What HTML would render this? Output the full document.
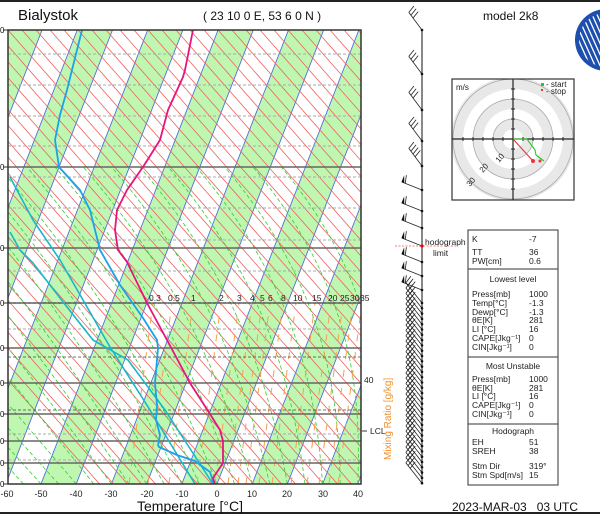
<!DOCTYPE html>
<html><head><meta charset="utf-8"><style>
html,body{margin:0;padding:0;background:#fff;}
svg{display:block;font-family:"Liberation Sans","DejaVu Sans",sans-serif;}
</style></head><body>
<svg id="s" width="600" height="515" viewBox="0 0 600 515" xmlns="http://www.w3.org/2000/svg">
<defs><clipPath id="pc"><rect x="8" y="30" width="353" height="454"/></clipPath>
<clipPath id="pc2"><rect x="8" y="167" width="353" height="317"/></clipPath>
<clipPath id="pc3"><rect x="8" y="303" width="353" height="181"/></clipPath>
<clipPath id="hc"><rect x="452" y="79" width="122" height="121"/></clipPath>
<clipPath id="lcc"><circle cx="606" cy="40" r="27"/></clipPath></defs>
<rect x="0" y="0" width="600" height="515" fill="#fff"/>
<line x1="0" y1="1" x2="600" y2="1" stroke="#222" stroke-width="2"/>
<line x1="0" y1="513" x2="600" y2="513" stroke="#222" stroke-width="2"/>
<g id="bands" clip-path="url(#pc)"></g>
<g id="grid" clip-path="url(#pc)"></g>
<g id="moist" clip-path="url(#pc2)"></g>
<g id="mix" clip-path="url(#pc3)"></g>
<g id="hl"></g>
<g id="curves" clip-path="url(#pc)"></g>
<rect x="8" y="30" width="353" height="454" fill="none" stroke="#333" stroke-width="1.5"/>
<g id="barbs"></g>
<g id="hodo"></g>
<g id="logo"><circle cx="606" cy="40" r="31" fill="#1d4fae"/></g>
<g font-size="8.5" fill="#222">
<text x="149" y="301">0.3</text><text x="168" y="301">0.5</text><text x="191" y="301">1</text><text x="219" y="301">2</text><text x="237" y="301">3</text><text x="250" y="301">4</text><text x="260" y="301">5</text><text x="268" y="301">6</text><text x="281" y="301">8</text><text x="293" y="301">10</text><text x="312" y="301">15</text><text x="328" y="301">20</text><text x="340" y="301">25</text><text x="350" y="301">30</text><text x="360" y="301">35</text>
<text x="364" y="383">40</text>
<text x="370" y="434">LCL</text>
</g>
<line x1="362" y1="431" x2="367" y2="431" stroke="#333"/>
<text transform="translate(391,460) rotate(-90)" font-size="10" fill="#f0902a">Mixing Ratio [g/kg]</text>
<g font-size="9" fill="#222" text-anchor="middle">
<text x="7" y="497">-60</text><text x="41" y="497">-50</text><text x="76" y="497">-40</text><text x="111" y="497">-30</text><text x="147" y="497">-20</text><text x="182" y="497">-10</text><text x="217" y="497">0</text><text x="252" y="497">10</text><text x="287" y="497">20</text><text x="323" y="497">30</text><text x="358" y="497">40</text>
</g>
<text x="190" y="511" font-size="14" fill="#111" text-anchor="middle">Temperature [°C]</text>
<text x="18" y="20" font-size="15" fill="#111">Bialystok</text>
<text x="203" y="20" font-size="12" fill="#111">( 23 10 0 E, 53 6 0 N )</text>
<text x="483" y="20" font-size="12" fill="#111">model 2k8</text>
<text x="452" y="511" font-size="12" fill="#111">2023-MAR-03&#160;&#160;&#160;03 UTC</text>
<g font-size="8" fill="#111"><text x="0" y="33">0</text><text x="0" y="170">0</text><text x="0" y="251">0</text><text x="0" y="306">0</text><text x="0" y="351">0</text><text x="0" y="386">0</text><text x="0" y="417">0</text><text x="0" y="444">0</text><text x="0" y="466">0</text><text x="0" y="487">0</text></g>
<line x1="395" y1="246" x2="456" y2="246" stroke="#f08080" stroke-dasharray="2,1.5"/>
<circle cx="422" cy="246" r="1.6" fill="#e00"/>
<text x="425" y="245" font-size="8.5" fill="#222">hodograph</text>
<text x="433" y="256" font-size="8.5" fill="#222">limit</text>
<g font-size="8.5" fill="#222">
<rect x="468" y="230" width="90" height="255" fill="#fff" stroke="#333"/>
<line x1="468" y1="269" x2="558" y2="269" stroke="#333"/>
<line x1="468" y1="357" x2="558" y2="357" stroke="#333"/>
<line x1="468" y1="424" x2="558" y2="424" stroke="#333"/>
<text x="472" y="242">K</text><text x="529" y="242">-7</text>
<text x="472" y="255">TT</text><text x="529" y="255">36</text>
<text x="472" y="264">PW[cm]</text><text x="529" y="264">0.6</text>
<text x="513" y="282" text-anchor="middle">Lowest level</text>
<text x="472" y="297">Press[mb]</text><text x="529" y="297">1000</text>
<text x="472" y="306">Temp[°C]</text><text x="529" y="306">-1.3</text>
<text x="472" y="315">Dewp[°C]</text><text x="529" y="315">-1.3</text>
<text x="472" y="323">θE[K]</text><text x="529" y="323">281</text>
<text x="472" y="332">LI [°C]</text><text x="529" y="332">16</text>
<text x="472" y="341">CAPE[Jkg⁻¹]</text><text x="529" y="341">0</text>
<text x="472" y="350">CIN[Jkg⁻¹]</text><text x="529" y="350">0</text>
<text x="513" y="369" text-anchor="middle">Most Unstable</text>
<text x="472" y="382">Press[mb]</text><text x="529" y="382">1000</text>
<text x="472" y="391">θE[K]</text><text x="529" y="391">281</text>
<text x="472" y="399">LI [°C]</text><text x="529" y="399">16</text>
<text x="472" y="408">CAPE[Jkg⁻¹]</text><text x="529" y="408">0</text>
<text x="472" y="417">CIN[Jkg⁻¹]</text><text x="529" y="417">0</text>
<text x="513" y="434" text-anchor="middle">Hodograph</text>
<text x="472" y="445">EH</text><text x="529" y="445">51</text>
<text x="472" y="454">SREH</text><text x="529" y="454">38</text>
<text x="472" y="469">Stm Dir</text><text x="529" y="469">319°</text>
<text x="472" y="478">Stm Spd[m/s]</text><text x="529" y="478">15</text>
</g>
</svg>
<script>
var NS="http://www.w3.org/2000/svg";
function el(p,t,a){var e=document.createElementNS(NS,t);for(var k in a)e.setAttribute(k,a[k]);document.getElementById(p).appendChild(e);return e;}
var SK=0.39;
function X(T,y){return 217+3.52*T+SK*(484-y);}
for(var a=-130;a<=40;a+=20){
 el("bands","polygon",{points:X(a,484)+",484 "+X(a+10,484)+",484 "+X(a+10,30)+",30 "+X(a,30)+",30",fill:"#bff7b0"});
}
for(var T=-130;T<=50;T+=10){el("grid","line",{x1:X(T,484),y1:484,x2:X(T,30),y2:30,stroke:"#4f6fe0","stroke-width":0.9});}
for(var x0=-300;x0<=380;x0+=14){el("grid","line",{x1:x0,y1:30,x2:x0+0.88*454,y2:484,stroke:"#f06060","stroke-width":0.8});}
for(var T0=-70;T0<=48;T0+=5){
 var s0=0.85-0.011*(T0+40); if(s0>0.9)s0=0.9;
 var x=X(T0,484),y=484,d="M"+x+","+y;
 for(var h=0;h<330;h+=4){var s=s0+(0.9-s0)*Math.min(1,Math.pow(h/330,1.4));x-=s*4;y-=4;d+=" L"+x.toFixed(1)+","+y;}
 el("moist","path",{d:d,fill:"none",stroke:"#33cc33","stroke-width":0.8,"stroke-dasharray":"4,2.5"});
}
var mx=[153,172,193,221,239,252,262,270,283,296,315,331,343,353,362];
mx.forEach(function(v){el("mix","line",{x1:v-24,y1:484,x2:v,y2:303,stroke:"#f5a050","stroke-width":1,"stroke-dasharray":"7,11"});});
[167,248,303,348,383,414,441,463].forEach(function(y){el("hl","line",{x1:8,y1:y,x2:361,y2:y,stroke:"#666","stroke-width":1.6});});
[54,85,116,146,177,208,240,271,329,434,460].forEach(function(y){el("hl","line",{x1:8,y1:y,x2:361,y2:y,stroke:"#aaa","stroke-width":1,"stroke-dasharray":"3,2"});});
[303,357,410].forEach(function(y){el("hl","line",{x1:8,y1:y,x2:361,y2:y,stroke:"#444","stroke-width":0.8,"stroke-dasharray":"3,2"});});
[30,167,248,303,348,383,414,441,463,484].forEach(function(y){el("hl","line",{x1:3,y1:y,x2:8,y2:y,stroke:"#333","stroke-width":1});});
function pl(pts,c,w){el("curves","polyline",{points:pts.map(function(p){return p.join(",")}).join(" "),fill:"none",stroke:c,"stroke-width":w,"stroke-linejoin":"round"});}
pl([[10,177],[33,220],[60,260],[83,300],[110,347],[150,410],[195,484]],"#18b8c8",1.6);
pl([[10,232],[20,250],[33,263],[67,307],[93,340],[128,360],[165,410],[213,484]],"#18b8c8",1.6);
pl([[82,30],[67,90],[60,115],[55,140],[59,167],[80,190],[90,210],[100,250],[120,285],[143,318],[157,340],[158,348],[155,383],[157,405],[156,420],[160,435],[158,445],[159,447],[177,455],[195,461],[210,472],[212,478],[213,484]],"#1aa3e8",1.8);
pl([[193,30],[185,70],[183,77],[168,110],[160,140],[143,167],[127,190],[117,210],[115,230],[118,250],[127,262],[147,303],[167,340],[190,383],[210,414],[220,430],[223,441],[223,463],[213,478],[215,484]],"#e8147c",1.8);
el("barbs","line",{x1:422,y1:30,x2:422,y2:484,stroke:"#111","stroke-width":1});
function barb(y,dx,dy,L,nf,flag){
 var ex=422+dx*L,ey=y+dy*L;
 el("barbs","line",{x1:422,y1:y,x2:ex,y2:ey,stroke:"#222","stroke-width":0.8});
 var px=-dy,py=dx; if(py>0){px=-px;py=-py;}
 var st=0;
 if(flag){el("barbs","polygon",{points:ex+","+ey+" "+(ex+px*7)+","+(ey+py*7)+" "+(ex-dx*3)+","+(ey-dy*3),fill:"#111"});st=4;}
 for(var i=0;i<nf;i++){var bx=ex-dx*(st+i*3.5),by=ey-dy*(st+i*3.5);el("barbs","line",{x1:bx,y1:by,x2:bx+px*8+dx*2,y2:by+py*8+dy*2,stroke:"#222","stroke-width":0.8});}
 el("barbs","circle",{cx:422,cy:y,r:1.3,fill:"#111"});
}
[[30,3],[74,3],[110,3],[141,3],[166,4]].forEach(function(b){barb(b[0],-0.6,-0.8,22,b[1],false);});
[190,211,228,246,262,276,290].forEach(function(y){barb(y,-0.93,-0.37,22,1,true);});
for(var y=303;y<=484;y+=5.3){barb(y,-0.62,-0.78,26,3,false);}
var cx=513,cy=139,g="hodo";
el(g,"rect",{x:452,y:79,width:122,height:121,fill:"#fff"});
[[62,"#e8e8e8"],[50,"#fff"],[40,"#e8e8e8"],[30,"#fff"],[20,"#e8e8e8"],[10,"#fff"]].forEach(function(r){el(g,"circle",{cx:cx,cy:cy,r:r[0],fill:r[1],"clip-path":"url(#hc)"});});
[20,40,60].forEach(function(r){el(g,"circle",{cx:cx,cy:cy,r:r,fill:"none",stroke:"#aaa","stroke-width":0.8});});
el(g,"line",{x1:452,y1:cy,x2:574,y2:cy,stroke:"#222","stroke-width":1.2});
el(g,"line",{x1:cx,y1:79,x2:cx,y2:200,stroke:"#222","stroke-width":1.2});
for(var k=-5;k<=5;k++){if(!k)continue;el(g,"line",{x1:cx+k*10,y1:cy-2,x2:cx+k*10,y2:cy+2,stroke:"#222"});el(g,"line",{x1:cx-2,y1:cy+k*10,x2:cx+2,y2:cy+k*10,stroke:"#222"});}
el(g,"rect",{x:452,y:79,width:122,height:121,fill:"none",stroke:"#333","stroke-width":1.2});
el(g,"polyline",{points:"513,139 527,139 535,150 536,155 544,161",fill:"none",stroke:"#22cc22","stroke-width":1.1});
el(g,"line",{x1:513,y1:139,x2:533,y2:161,stroke:"#ee3333","stroke-width":1.1});
el(g,"circle",{cx:533,cy:161,r:2,fill:"#ee3333"});
el(g,"circle",{cx:540,cy:161,r:1.5,fill:"#ee3333"});
el(g,"rect",{x:541,y:83,width:3,height:3,fill:"#22cc22"});
el(g,"rect",{x:541,y:89,width:2,height:2,fill:"#ee3333"});
function tx(x,y,s,fs,rot){var t=el(g,"text",{x:x,y:y,"font-size":fs,fill:"#222"});if(rot)t.setAttribute("transform","rotate("+rot+" "+x+" "+y+")");t.textContent=s;}
tx(456,90,"m/s",8);tx(546,87,"- start",8);tx(546,94,"- stop",8);
tx(499,163,"10",8,-50);tx(483,173,"20",8,-50);tx(470,187,"30",8,-50);
for(var i=-8;i<=8;i++){el("logo","line",{x1:585+i*5,y1:10,x2:612+i*5,y2:70,stroke:"#fff","stroke-width":1.3,"clip-path":"url(#lcc)"});}
</script>
</body></html>
